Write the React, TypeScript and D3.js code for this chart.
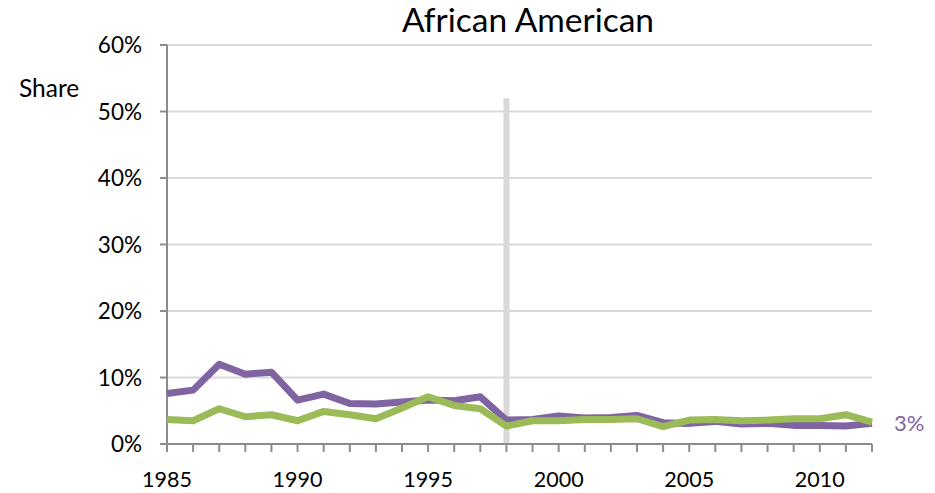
import React from "react";
import * as d3 from "d3";

const years = [1985, 1986, 1987, 1988, 1989, 1990, 1991, 1992, 1993, 1994, 1995, 1996, 1997, 1998, 1999, 2000, 2001, 2002, 2003, 2004, 2005, 2006, 2007, 2008, 2009, 2010, 2011, 2012];
const purpleSeries = [7.6, 8.1, 12.0, 10.5, 10.8, 6.6, 7.5, 6.1, 6.0, 6.3, 6.6, 6.5, 7.1, 3.6, 3.7, 4.2, 3.9, 4.0, 4.3, 3.2, 3.1, 3.4, 3.0, 3.1, 2.8, 2.8, 2.7, 3.1];
const greenSeries = [3.7, 3.5, 5.3, 4.1, 4.4, 3.5, 4.9, 4.4, 3.8, 5.4, 7.1, 5.8, 5.3, 2.7, 3.5, 3.5, 3.7, 3.7, 3.8, 2.6, 3.6, 3.7, 3.5, 3.6, 3.8, 3.8, 4.4, 3.3];
const yTicks = [0, 10, 20, 30, 40, 50, 60];
const xLabelYears = [1985, 1990, 1995, 2000, 2005, 2010];
const markerYear = 1998;
const markerTop = 52;
const title = "African American";
const yTitle = "Share";

const W = 935;
const H = 493;
const left = 167;
const right = 872;
const top = 45;
const bottom = 444;
const FONT = "Lato, 'Open Sans', sans-serif";
const PURPLE = "#8064A2";
const GREEN = "#9BBB59";
const GRID = "#D9D9D9";
const AXIS = "#8C8C8C";

export default function App() {
  const x = d3.scalePoint<number>().domain(years).range([left, right]).padding(0);
  const y = d3.scaleLinear().domain([0, 60]).range([bottom, top]);
  const line = d3
    .line<number>()
    .x((_, i) => x(years[i]) as number)
    .y((d) => y(d))
    .curve(d3.curveLinear);

  const lastIdx = years.length - 1;
  const lastVal = purpleSeries[lastIdx];

  return (
    <svg
      width={W}
      height={H}
      style={{ position: "absolute", left: 0, top: 0, background: "#fff" }}
      fontFamily={FONT}
    >
      {/* gridlines */}
      {yTicks.filter((t) => t > 0).map((t) => (
        <line key={"g" + t} x1={left} x2={right} y1={y(t)} y2={y(t)} stroke={GRID} strokeWidth={2} />
      ))}
      {/* vertical marker */}
      <line
        x1={x(markerYear)}
        x2={x(markerYear)}
        y1={y(0)}
        y2={y(markerTop)}
        stroke={GRID}
        strokeWidth={6}
      />
      {/* axes */}
      <line x1={left} x2={left} y1={y(60)} y2={y(0)} stroke={AXIS} strokeWidth={2} />
      <line x1={left} x2={right} y1={y(0)} y2={y(0)} stroke={AXIS} strokeWidth={2} />
      {yTicks.map((t) => (
        <g key={"yt" + t}>
          <line x1={left - 7} x2={left} y1={y(t)} y2={y(t)} stroke={AXIS} strokeWidth={2} />
          <text x={142} y={y(t)} dy="0.36em" textAnchor="end" fontSize={22.5} fill="#000">
            {t}%
          </text>
        </g>
      ))}
      {years.map((yr) => (
        <line key={"xt" + yr} x1={x(yr)} x2={x(yr)} y1={y(0)} y2={y(0) + 8} stroke={AXIS} strokeWidth={2} />
      ))}
      {xLabelYears.map((yr) => (
        <text key={"xl" + yr} x={x(yr)} y={487} textAnchor="middle" fontSize={21.5} fill="#000">
          {yr}
        </text>
      ))}
      {/* series */}
      <path d={line(purpleSeries) || ""} fill="none" stroke={PURPLE} strokeWidth={7} strokeLinejoin="round" />
      <path d={line(greenSeries) || ""} fill="none" stroke={GREEN} strokeWidth={7} strokeLinejoin="round" />
      {/* end label */}
      <text x={(x(years[lastIdx]) as number) + 22} y={y(lastVal)} dy="0.36em" fontSize={22} fill={PURPLE}>
        {Math.round(lastVal)}%
      </text>
      {/* titles */}
      <text x={528} y={32} textAnchor="middle" fontSize={33.5} fill="#000">
        {title}
      </text>
      <text x={19} y={97} fontSize={24.5} fill="#000">
        {yTitle}
      </text>
    </svg>
  );
}
